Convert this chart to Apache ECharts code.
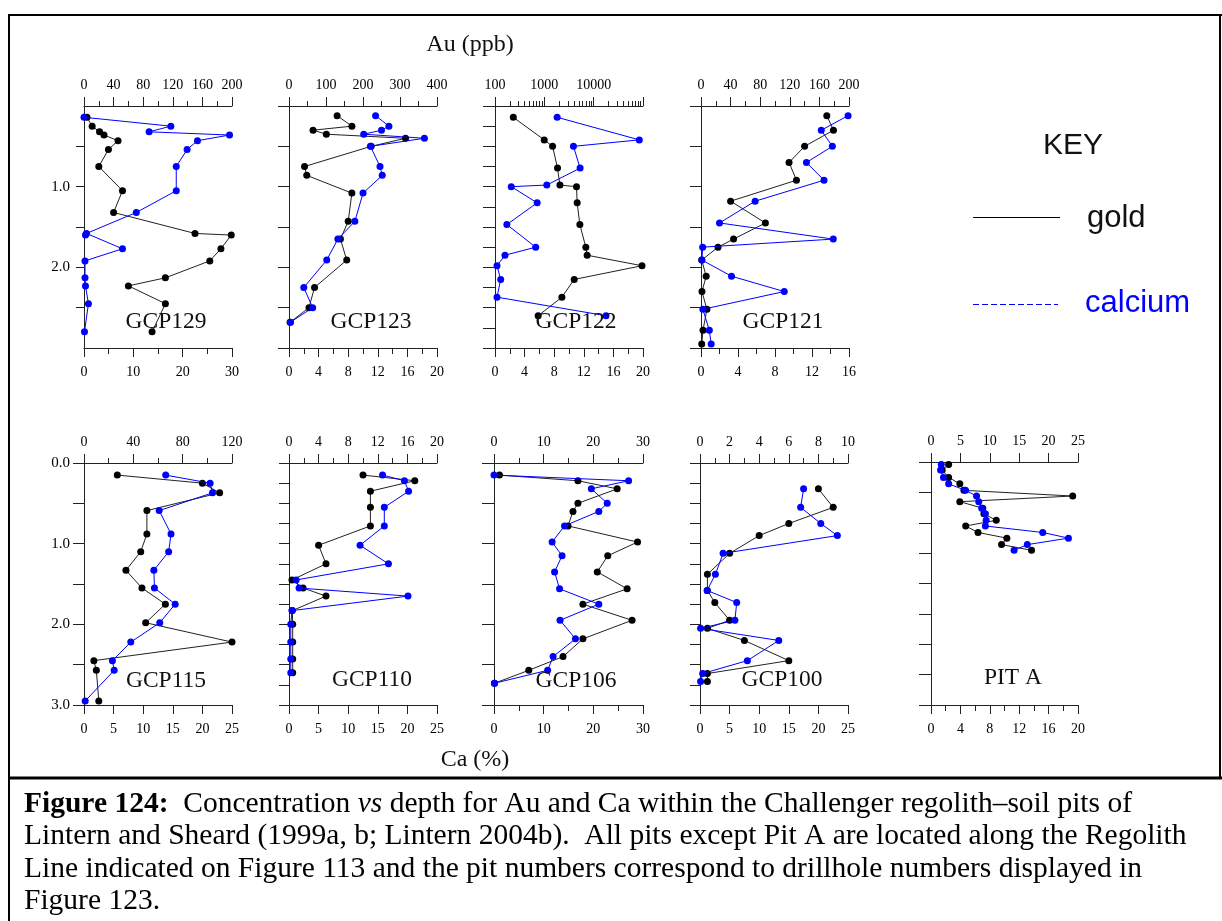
<!DOCTYPE html>
<html><head><meta charset="utf-8">
<script src="https://cdn.jsdelivr.net/npm/echarts@6/dist/echarts.min.js"></script>
<style>html,body{margin:0;padding:0;background:#fff;}#c{width:1222px;height:921px;}</style>
</head><body><div id="c"></div>
<script>
// ---------------- data (depth in m, Au in ppb, Ca in %) ----------------
const gcp129Depth = [0.14,0.25,0.32,0.36,0.43,0.54,0.75,1.05,1.32,1.58,1.60,1.77,1.92,2.13,2.23,2.45,2.80];
const gcp129Au    = [4,11,21,27,46,33,20,52,40,150,199,185,170,110,60,110,92];
const gcp129Ca    = [0,17.6,13.2,29.5,23.0,20.9,18.7,18.7,10.6,0.5,0.3,7.8,0.2,0.2,0.3,0.9,0.1];

const gcp123Depth = [0.12,0.25,0.30,0.35,0.40,0.50,0.75,0.86,1.08,1.43,1.65,1.91,2.25,2.50,2.68];
const gcp123Au    = [130,170,65,101,315,222,42,48,170,160,139,156,69,54,3];
const gcp123Ca    = [11.7,13.5,12.5,10.1,18.3,11.0,12.3,12.6,10.0,8.9,6.6,5.1,2.0,3.2,0.2];

const gcp122Depth = [0.14,0.42,0.50,0.77,0.98,1.00,1.20,1.47,1.75,1.85,1.98,2.15,2.37,2.60];
const gcp122Au    = [235,995,1470,1850,2070,4490,4630,5250,6930,7380,95500,4030,2270,750];
const gcp122Ca    = [8.4,19.5,10.6,11.5,7.0,2.2,5.7,1.6,5.5,1.35,0.27,0.77,0.27,15.0];

const gcp121Depth = [0.12,0.30,0.50,0.70,0.92,1.18,1.45,1.65,1.75,1.91,2.11,2.30,2.52,2.78,2.95];
const gcp121Au    = [170,179,140,119,129,40,87,44,23,1,7,1.3,8,2.7,1];
const gcp121Ca    = [15.9,13.0,14.2,11.4,13.3,5.85,2.0,14.3,0.18,0.1,3.3,9.0,0.2,0.9,1.1];

const gcp115Depth = [0.15,0.25,0.37,0.59,0.88,1.10,1.33,1.55,1.75,1.98,2.22,2.45,2.57,2.95];
const gcp115Au    = [27,96,110,51,51,46,34,47,66,50,120,8,10,12];
const gcp115Ca    = [13.8,21.3,21.7,12.7,14.7,14.3,11.8,11.9,15.4,12.8,7.9,4.8,5.1,0.2];

const gcp110Depth = [0.15,0.22,0.35,0.55,0.78,1.02,1.25,1.45,1.55,1.65,1.83,2.00,2.22,2.43,2.60];
const gcp110Au    = [10.0,17.0,11.0,11.0,11.0,4.0,5.0,0.4,1.9,5.0,0.45,0.5,0.5,0.5,0.5];
const gcp110Ca    = [15.8,19.5,20.2,16.1,16.1,12.0,16.8,1.2,1.7,20.1,0.5,0.3,0.3,0.3,0.3];

const gcp106Depth = [0.15,0.22,0.32,0.50,0.60,0.78,0.98,1.15,1.35,1.56,1.75,1.95,2.18,2.40,2.57,2.73];
const gcp106Au    = [1.1,16.9,24.8,16.9,15.9,14.9,28.9,22.9,20.8,26.8,17.9,27.8,17.9,13.9,7.0,0.1];
const gcp106Ca    = [0,27.1,19.6,22.8,21.1,14.2,11.7,13.7,12.2,13.2,21.1,13.3,16.4,11.9,10.8,0.1];

const gcp100Depth = [0.32,0.55,0.75,0.90,1.12,1.38,1.58,1.73,1.95,2.05,2.20,2.45,2.61,2.71];
const gcp100Au    = [8.0,9.0,6.0,4.0,2.0,0.5,0.5,1.0,2.0,0.5,3.0,6.0,0.5,0.5];
const gcp100Ca    = [17.5,17.0,20.4,23.2,3.9,2.6,1.2,6.2,5.9,0.1,13.3,8.0,0.45,0.1];

const pitADepth   = [0.03,0.10,0.19,0.27,0.35,0.42,0.49,0.57,0.64,0.72,0.79,0.87,0.94,1.02,1.09];
const pitAAu      = [3.0,1.9,3.0,4.9,5.6,24.1,4.9,8.8,9.0,11.1,5.9,8.0,12.9,12.0,17.1];
const pitACa      = [1.4,1.3,1.7,2.4,4.7,6.2,6.5,6.9,7.4,7.5,7.4,15.2,18.7,13.1,11.3];

const pitNames = ['GCP129','GCP123','GCP122','GCP121','GCP115','GCP110','GCP106','GCP100','PIT A'];
const logMinorTickValues = [200,300,400,500,600,700,800,900,2000,3000,4000,5000,6000,7000,8000,9000,20000,30000,40000,50000,60000,70000,80000,90000];
const gcp129DepthTicks = [0.5,1,1.5,2,2.5];

// ---------------- layout ----------------
const SERIF = '"Liberation Serif","Times New Roman",serif';
const SANS = '"Liberation Sans",Arial,sans-serif';
const AX = '#222';
const panels = [
  {d:gcp129Depth,au:gcp129Au,ca:gcp129Ca,left:84,top:106,w:148,h:242,A:{min:0,max:200,iv:40,mn:2},C:{min:0,max:30,iv:10,mn:2},yi:0.5,yl:'top',tl:8,t:[166,322],yt:gcp129DepthTicks},
  {d:gcp123Depth,au:gcp123Au,ca:gcp123Ca,left:289,top:106,w:148,h:242,A:{min:0,max:400,iv:100,mn:2},C:{min:0,max:20,iv:4,mn:2},yi:0.5,yl:'none',tl:11,t:[371,322]},
  {d:gcp122Depth,au:gcp122Au,ca:gcp122Ca,left:495,top:106,w:148,h:242,A:{log:true,min:100,max:100000},C:{min:0,max:20,iv:4,mn:2},yi:0.25,yl:'none',tl:12,t:[576,322]},
  {d:gcp121Depth,au:gcp121Au,ca:gcp121Ca,left:701,top:106,w:148,h:242,A:{min:0,max:200,iv:40,mn:2},C:{min:0,max:16,iv:4,mn:2},yi:0.5,yl:'none',tl:11,t:[783,322]},
  {d:gcp115Depth,au:gcp115Au,ca:gcp115Ca,left:84,top:463,w:148,h:242,A:{min:0,max:120,iv:40,mn:2},C:{min:0,max:25,iv:5,mn:0},yi:0.5,yl:'all',tl:11,t:[166,681]},
  {d:gcp110Depth,au:gcp110Au,ca:gcp110Ca,left:289,top:463,w:148,h:242,A:{min:0,max:20,iv:4,mn:2},C:{min:0,max:25,iv:5,mn:0},yi:0.25,yl:'none',tl:10,t:[372,680]},
  {d:gcp106Depth,au:gcp106Au,ca:gcp106Ca,left:494,top:463,w:149,h:242,A:{min:0,max:30,iv:10,mn:2},C:{min:0,max:30,iv:10,mn:2},yi:0.5,yl:'none',tl:12,t:[576,681]},
  {d:gcp100Depth,au:gcp100Au,ca:gcp100Ca,left:700,top:463,w:148,h:242,A:{min:0,max:10,iv:2,mn:2},C:{min:0,max:25,iv:5,mn:0},yi:0.25,yl:'none',tl:10,t:[782,680]},
  {d:pitADepth,au:pitAAu,ca:pitACa,left:931,top:462,w:147,h:243,A:{min:0,max:25,iv:5,mn:0},C:{min:0,max:20,iv:4,mn:2},yi:0.375,yl:'none',tl:12,t:[1013,678]}
];

const grid = [], xAxis = [], yAxis = [], series = [], graphic = [];
const lblStyle = {color:'#000', fontFamily:SERIF, fontSize:14};

panels.forEach((p, i) => {
  grid.push({left:p.left, top:p.top, width:p.w, height:p.h, containLabel:false});
  // top axis: Au (ppb)
  const top = {gridIndex:i, position:'top', min:p.A.min, max:p.A.max, splitLine:{show:false},
    axisLine:{onZero:false, lineStyle:{color:AX, width:1}},
    axisTick:{show:true, inside:false, length:9, lineStyle:{color:AX}},
    axisLabel:Object.assign({margin:14, showMinLabel:true, showMaxLabel:true}, lblStyle)};
  if (p.A.log) {
    top.type = 'log'; top.logBase = 10;
    top.axisLabel.formatter = v => (v >= 100000 ? '' : String(Math.round(v)));
  } else {
    top.type = 'value'; top.interval = p.A.iv;
    if (p.A.mn) top.minorTick = {show:true, splitNumber:p.A.mn, length:5, lineStyle:{color:AX}};
  }
  xAxis.push(top);
  // bottom axis: Ca (%)
  const bot = {gridIndex:i, type:'value', position:'bottom', min:p.C.min, max:p.C.max, interval:p.C.iv,
    splitLine:{show:false},
    axisLine:{onZero:false, lineStyle:{color:AX, width:1}},
    axisTick:{show:true, inside:false, length:9, lineStyle:{color:AX}},
    axisLabel:Object.assign({margin:17, showMinLabel:true, showMaxLabel:true}, lblStyle)};
  if (p.C.mn) bot.minorTick = {show:true, splitNumber:p.C.mn, length:6, lineStyle:{color:AX}};
  xAxis.push(bot);
  // depth axis
  const yTick = {show:true, inside:false, length:p.tl, lineStyle:{color:AX}};
  if (p.yt) yTick.customValues = p.yt;
  yAxis.push({gridIndex:i, type:'value', inverse:true, min:0, max:3, interval:p.yi,
    splitLine:{show:false},
    axisLine:{onZero:false, lineStyle:{color:AX, width:1}},
    axisTick:yTick,
    axisLabel:{show:p.yl !== 'none', margin:14, color:'#000', fontFamily:SERIF, fontSize:15,
      showMinLabel:true, showMaxLabel:true,
      formatter: v => {
        if (Math.abs(v - Math.round(v)) > 1e-6) return '';
        if (p.yl === 'top' && (Math.round(v) === 0 || Math.round(v) === 3)) return '';
        return v.toFixed(1);
      }}});
  series.push({type:'line', name:'gold', xAxisIndex:2*i, yAxisIndex:i,
    data:p.d.map((dd, k) => [p.au[k], dd]),
    symbol:'circle', symbolSize:7, showSymbol:true, clip:false, z:2,
    lineStyle:{color:'#222', width:1}, itemStyle:{color:'#000'}, emphasis:{disabled:true}});
  series.push({type:'line', name:'calcium', xAxisIndex:2*i+1, yAxisIndex:i,
    data:p.d.map((dd, k) => [p.ca[k], dd]),
    symbol:'circle', symbolSize:7, showSymbol:true, clip:false, z:3,
    lineStyle:{color:'#0000ff', width:1}, itemStyle:{color:'#0000ff'}, emphasis:{disabled:true}});
  graphic.push({type:'text', x:p.t[0], y:p.t[1], z:10,
    style:{text:pitNames[i], fill:'#111', font:'23.5px ' + SERIF, textAlign:'center', textVerticalAlign:'middle', align:'center', verticalAlign:'middle'}});
});

// minor ticks of the logarithmic Au axis (GCP122), on an overlaid tick-only axis
xAxis.push({gridIndex:2, type:'value', position:'top', min:2, max:5, splitLine:{show:false},
  axisLine:{show:false, onZero:false}, axisLabel:{show:false},
  axisTick:{show:true, inside:false, length:5, lineStyle:{color:AX},
    customValues: logMinorTickValues.map(v => Math.log10(v))}});

// frame
const ln = (x1,y1,x2,y2,w) => ({type:'line', shape:{x1,y1,x2,y2}, style:{stroke:'#000', lineWidth:w}, z:20});
graphic.push(ln(8,15,1222,15,2), ln(9,14,9,921,2), ln(1220,14,1220,778,2), ln(8,778,1222,778,3));

const txt = (s, x, y, font, fill, align) => ({type:'text', x, y, z:10,
  style:{text:s, fill:fill||'#000', font, textAlign:align||'center', textVerticalAlign:'middle', align:align||'center', verticalAlign:'middle'}});

graphic.push(txt('Au (ppb)', 470, 45, '24px ' + SERIF, '#111'));
graphic.push(txt('Ca (%)', 475, 760, '24px ' + SERIF, '#111'));

// key
graphic.push(txt('KEY', 1073, 146, '30px ' + SANS, '#111'));
graphic.push({type:'line', shape:{x1:973,y1:217.5,x2:1060,y2:217.5}, style:{stroke:'#000', lineWidth:1}, z:10});
graphic.push(txt('gold', 1087, 218, '31px ' + SANS, '#111', 'left'));
graphic.push({type:'line', shape:{x1:973,y1:304.5,x2:1058,y2:304.5}, style:{stroke:'#0000ff', lineWidth:1, lineDash:[6,3]}, z:10});
graphic.push(txt('calcium', 1085, 303, '31px ' + SANS, '#0000ff', 'left'));

// caption
const capLines = [
  '{b|Figure 124:}  Concentration {i|vs} depth for Au and Ca within the Challenger regolith\u2013soil pits of',
  'Lintern and Sheard (1999a, b; Lintern 2004b).  All pits except Pit A are located along the Regolith',
  'Line indicated on Figure 113 and the pit numbers correspond to drillhole numbers displayed in',
  'Figure 123.'
];
const capY = [804, 836.5, 869, 901.5];
const CAPFS = 29.5;
capLines.forEach((s, k) => {
  graphic.push({type:'text', x:24, y:capY[k], z:10,
    style:{text:s, fill:'#000', fontFamily:SERIF, fontSize:CAPFS, textAlign:'left', textVerticalAlign:'middle', align:'left', verticalAlign:'middle',
      rich:{b:{fontFamily:SERIF, fontSize:CAPFS, fontWeight:'bold', fill:'#000'}, i:{fontFamily:SERIF, fontSize:CAPFS, fontStyle:'italic', fill:'#000'}}}});
});

const chart = echarts.init(document.getElementById('c'), null, {renderer:'canvas'});
chart.setOption({
  animation:false,
  backgroundColor:'#fff',
  grid, xAxis, yAxis, series, graphic,
  tooltip:{show:false}
});
</script></body></html>
